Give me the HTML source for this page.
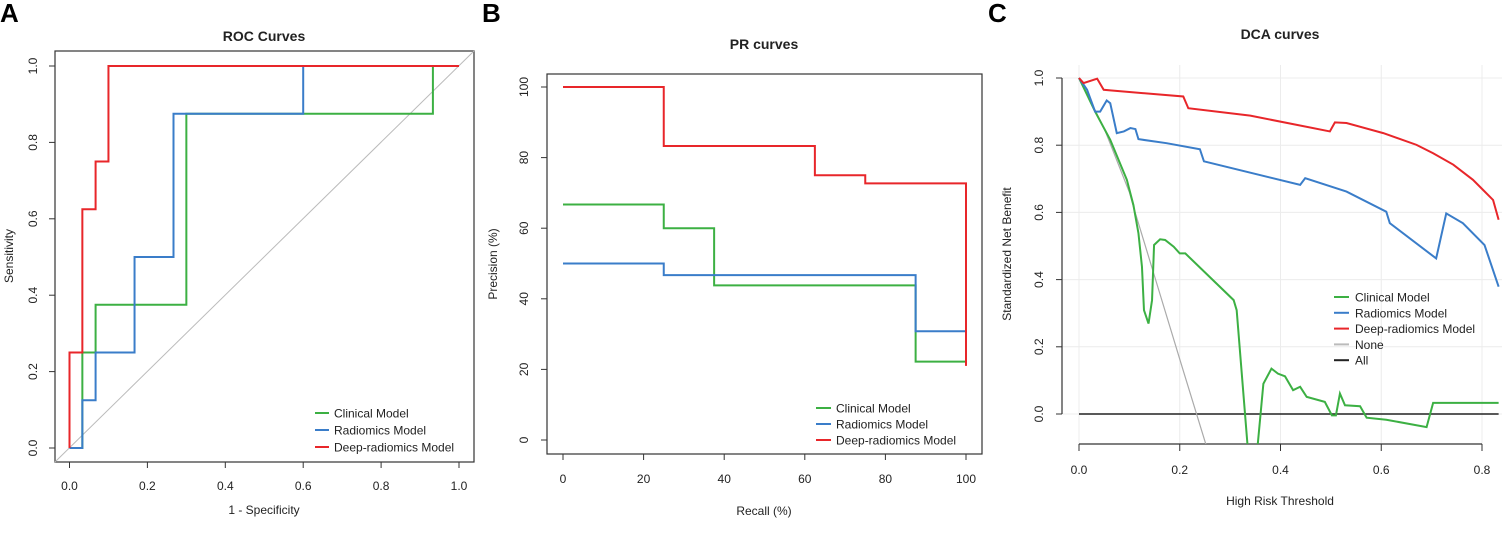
<!DOCTYPE html>
<html><head><meta charset="utf-8"><style>
body{margin:0;background:#fff;}
svg{display:block;font-family:"Liberation Sans",sans-serif;}
</style></head><body>
<svg id="fig" width="1502" height="534" viewBox="0 0 1502 534" xmlns="http://www.w3.org/2000/svg">
<text x="0" y="22" font-size="26" font-weight="bold">A</text>
<text x="482" y="22" font-size="26" font-weight="bold">B</text>
<text x="988" y="22" font-size="26" font-weight="bold">C</text>
</svg>
<script>
// ---- ROC data ----
const rocGreenX=[0,0.033,0.033,0.067,0.067,0.3,0.3,0.933,0.933,1];
const rocGreenY=[0,0,0.25,0.25,0.375,0.375,0.875,0.875,1,1];
const rocBlueX=[0,0.033,0.033,0.067,0.067,0.167,0.167,0.267,0.267,0.6,0.6,1];
const rocBlueY=[0,0,0.125,0.125,0.25,0.25,0.5,0.5,0.875,0.875,1,1];
const rocRedX=[0,0,0.033,0.033,0.067,0.067,0.1,0.1,1];
const rocRedY=[0,0.25,0.25,0.625,0.625,0.75,0.75,1,1];
const rocTicks=["0.0","0.2","0.4","0.6","0.8","1.0"];
// ---- PR data ----
const prGreenX=[0,25,25,37.5,37.5,87.5,87.5,100];
const prGreenY=[66.7,66.7,60,60,43.8,43.8,22.2,22.2];
const prBlueX=[0,25,25,87.5,87.5,100];
const prBlueY=[50,50,46.7,46.7,30.8,30.8];
const prRedX=[0,25,25,62.5,62.5,75,75,100,100];
const prRedY=[100,100,83.3,83.3,75,75,72.7,72.7,21];
const prTicks=["0","20","40","60","80","100"];
// ---- DCA data ----
const dcaRedX=[0,.009,.036,.049,.062,.207,.217,.34,.498,.508,.531,.604,.67,.703,.743,.782,.802,.822,.833];
const dcaRedY=[1,.985,.998,.965,.963,.945,.91,.888,.841,.868,.866,.836,.801,.776,.742,.697,.667,.637,.578];
const dcaBlueX=[0,.016,.032,.042,.055,.062,.075,.089,.102,.112,.118,.174,.240,.248,.439,.449,.531,.610,.617,.709,.729,.762,.805,.833];
const dcaBlueY=[1,.965,.9,.9,.933,.925,.836,.841,.851,.848,.818,.806,.788,.752,.682,.702,.662,.602,.568,.463,.597,.568,.503,.379];
const dcaGreenX=[0,.032,.062,.095,.108,.118,.125,.129,.138,.145,.149,.161,.171,.188,.200,.211,.307,.313,.336,.353,.366,.382,.395,.409,.425,.439,.452,.488,.502,.510,.518,.528,.558,.571,.610,.690,.703,.833];
const dcaGreenY=[1,.9,.816,.697,.622,.538,.438,.309,.269,.339,.503,.520,.518,.498,.478,.478,.339,.309,-.12,-.12,.090,.135,.120,.112,.071,.081,.051,.036,-.004,-.004,.061,.026,.023,-.011,-.017,-.039,.033,.033];
const dcaNoneX=[0,.05,.1,.108,.15,.2,.26];
const dcaNoneY=[1,.85,.66,.617,.41,.163,-.13];
const dcaAllX=[0,.833];
const dcaAllY=[0,0];
const dcaXTicks=["0.0","0.2","0.4","0.6","0.8"];
const dcaYTicks=["0.0","0.2","0.4","0.6","0.8","1.0"];
const legendNames=["Clinical Model","Radiomics Model","Deep-radiomics Model"];

const NS="http://www.w3.org/2000/svg";
const svg=document.getElementById('fig');
const GREEN="#3cb043",BLUE="#3a7dc9",RED="#e8262a";
function mk(tag,attrs,parent){const e=document.createElementNS(NS,tag);for(const k in attrs)e.setAttribute(k,attrs[k]);(parent||svg).appendChild(e);return e;}
function txt(x,y,s,size,extra,parent){const t=mk('text',Object.assign({x:x,y:y,'font-size':size,fill:'#222'},extra||{}),parent);t.textContent=s;return t;}
function poly(xs,ys,sx,sy,color,w,parent){return mk('polyline',{points:xs.map((v,i)=>sx(v)+','+sy(ys[i])).join(' '),fill:'none',stroke:color,'stroke-width':w,'stroke-linejoin':'miter'},parent);}

// ===== Panel A =====
{
const sx=v=>69.5+v*389.5, sy=v=>448-v*382;
const g=mk('g',{});


const tt=txt(264,41,"ROC Curves",14,{'font-weight':'bold','text-anchor':'middle'},g);

const box=mk('rect',{x:55,y:51,width:419,height:411,fill:'none',stroke:'#333','stroke-width':1.2},g);

const diag=mk('line',{x1:55,y1:462,x2:474,y2:51,stroke:'#bbb','stroke-width':1},g);

rocTicks.forEach((s,i)=>{const v=i*0.2;
 mk('line',{x1:sx(v),y1:462,x2:sx(v),y2:468,stroke:'#333'},g);
 const lx=txt(sx(v),490,s,12,{'text-anchor':'middle'},g);
 
 mk('line',{x1:49,y1:sy(v),x2:55,y2:sy(v),stroke:'#333'},g);
 const ly=txt(0,0,s,12,{'text-anchor':'middle',transform:`translate(37,${sy(v)}) rotate(-90)`},g);
 
});
const xl=txt(264,514,"1 - Specificity",12,{'text-anchor':'middle'},g);

const yl=txt(0,0,"Sensitivity",12,{'text-anchor':'middle',transform:'translate(13,256) rotate(-90)'},g);

const l1=poly(rocGreenX,rocGreenY,sx,sy,GREEN,2,g);
const l2=poly(rocBlueX,rocBlueY,sx,sy,BLUE,2,g);
const l3=poly(rocRedX,rocRedY,sx,sy,RED,2,g);
[GREEN,BLUE,RED].forEach((c,i)=>{const y=413+i*17;
 mk('line',{x1:315,y1:y,x2:329,y2:y,stroke:c,'stroke-width':2},g);
 const t=txt(334,y+4.5,legendNames[i],12,{},g);
 
});
}
// ===== Panel B =====
{
const sx=v=>563+v*4.03, sy=v=>440-v*3.53;
const g=mk('g',{});


const tt=txt(764,49,"PR curves",14,{'font-weight':'bold','text-anchor':'middle'},g);

const box=mk('rect',{x:547,y:74,width:435,height:380,fill:'none',stroke:'#333','stroke-width':1.2},g);

prTicks.forEach((s,i)=>{const v=i*20;
 mk('line',{x1:sx(v),y1:454,x2:sx(v),y2:460,stroke:'#333'},g);
 const lx=txt(sx(v),483,s,12,{'text-anchor':'middle'},g);
 
 mk('line',{x1:541,y1:sy(v),x2:547,y2:sy(v),stroke:'#333'},g);
 const ly=txt(0,0,s,12,{'text-anchor':'middle',transform:`translate(528,${sy(v)}) rotate(-90)`},g);
 
});
const xl=txt(764,515,"Recall (%)",12,{'text-anchor':'middle'},g);

const yl=txt(0,0,"Precision (%)",12,{'text-anchor':'middle',transform:'translate(497,264) rotate(-90)'},g);

const l1=poly(prGreenX,prGreenY,sx,sy,GREEN,2,g);
const l2=poly(prBlueX,prBlueY,sx,sy,BLUE,2,g);
const l3=poly(prRedX,prRedY,sx,sy,RED,2,g);
[GREEN,BLUE,RED].forEach((c,i)=>{const y=408+i*16;
 mk('line',{x1:816,y1:y,x2:831,y2:y,stroke:c,'stroke-width':2},g);
 const t=txt(836,y+4.5,legendNames[i],12,{},g);
 
});
}
// ===== Panel C =====
{
const sx=v=>1079+v*(403/0.8), sy=v=>414-v*336;
const g=mk('g',{});


const tt=txt(1280,39,"DCA curves",14,{'font-weight':'bold','text-anchor':'middle'},g);

const defs=mk('defs',{},g);
const cp=mk('clipPath',{id:'dcaclip'},defs);
mk('rect',{x:1062,y:60,width:440,height:384},cp);
dcaXTicks.forEach((s,i)=>{const v=i*0.2;
 mk('line',{x1:sx(v),y1:65,x2:sx(v),y2:444,stroke:'#ececec','stroke-width':1},g);
 mk('line',{x1:sx(v),y1:444,x2:sx(v),y2:451,stroke:'#333'},g);
 const lx=txt(sx(v),474,s,12,{'text-anchor':'middle'},g);
 
});
dcaYTicks.forEach((s,i)=>{const v=i*0.2;
 mk('line',{x1:1062,y1:sy(v),x2:1502,y2:sy(v),stroke:'#ececec','stroke-width':1},g);
 mk('line',{x1:1056,y1:sy(v),x2:1062,y2:sy(v),stroke:'#333'},g);
 const ly=txt(0,0,s,12,{'text-anchor':'middle',transform:`translate(1043,${sy(v)}) rotate(-90)`},g);
 
});
const ya=mk('line',{x1:1062,y1:sy(0),x2:1062,y2:sy(1),stroke:'#333','stroke-width':1.2},g);

const xa=mk('line',{x1:sx(0),y1:444,x2:sx(0.8),y2:444,stroke:'#333','stroke-width':1.2},g);

const xl=txt(1280,505,"High Risk Threshold",12,{'text-anchor':'middle'},g);

const yl=txt(0,0,"Standardized Net Benefit",12,{'text-anchor':'middle',transform:'translate(1011,254) rotate(-90)'},g);

const pg=mk('g',{'clip-path':'url(#dcaclip)'},g);
const l0=poly(dcaAllX,dcaAllY,sx,sy,'#222',1.5,pg);
const l4=poly(dcaNoneX,dcaNoneY,sx,sy,'#aaa',1.2,pg);
const l1=poly(dcaGreenX,dcaGreenY,sx,sy,GREEN,2,pg);
const l2=poly(dcaBlueX,dcaBlueY,sx,sy,BLUE,2,pg);
const l3=poly(dcaRedX,dcaRedY,sx,sy,RED,2,pg);
const names=legendNames.concat(["None","All"]);
[GREEN,BLUE,RED,'#bbb','#222'].forEach((c,i)=>{const y=297+i*15.8;
 mk('line',{x1:1334,y1:y,x2:1349,y2:y,stroke:c,'stroke-width':2},g);
 const t=txt(1355,y+4.5,names[i],12,{},g);
 
});
}
</script>
</body></html>
